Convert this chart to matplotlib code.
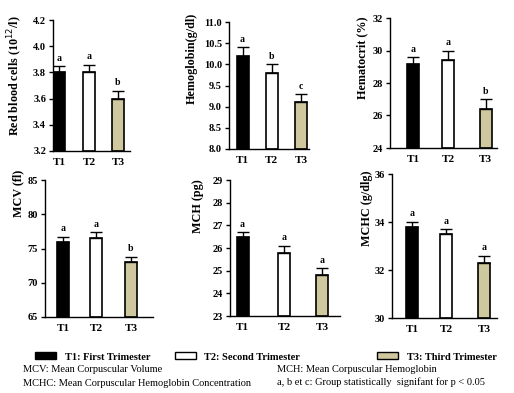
import numpy as np
import matplotlib.pyplot as plt
from matplotlib.patches import Rectangle

groups = ['T1', 'T2', 'T3']
colors = ['black', 'white', '#cfc79e']

# mean values and upper error (SEM) for each parameter
rbc = [3.8, 3.8, 3.6]
rbc_err = [0.05, 0.06, 0.06]
hb = [10.2, 9.8, 9.1]
hb_err = [0.2, 0.2, 0.2]
hct = [29.2, 29.4, 26.4]
hct_err = [0.4, 0.6, 0.6]
mcv = [76.0, 76.6, 73.0]
mcv_err = [0.7, 0.8, 0.8]
mch = [26.5, 25.8, 24.8]
mch_err = [0.2, 0.3, 0.3]
mchc = [33.8, 33.5, 32.3]
mchc_err = [0.2, 0.2, 0.3]

rbc_letters = ['a', 'a', 'b']
hb_letters = ['a', 'b', 'c']
hct_letters = ['a', 'a', 'b']
mcv_letters = ['a', 'a', 'b']
mch_letters = ['a', 'a', 'a']
mchc_letters = ['a', 'a', 'a']

W, H = 514, 393
plt.rcParams['font.family'] = ['Liberation Serif', 'DejaVu Serif']
fig = plt.figure(figsize=(W / 100, H / 100), dpi=100)

# each panel: pixel box (left, right, top, bottom), bar centres px, ylim, yticks, label, label pos
panels = [
    (rbc, rbc_err, rbc_letters, (53, 130, 20, 151), [59, 89, 118], (3.2, 4.2),
     np.arange(3.2, 4.21, 0.2), '%.1f', 'Red blood cells (10$^{12}$/l)', (15, 76)),
    (hb, hb_err, hb_letters, (229, 309, 22, 149), [242.5, 271.5, 301], (8.0, 11.0),
     np.arange(8.0, 11.01, 0.5), '%.1f', 'Hemoglobin(g/dl)', (192, 58)),
    (hct, hct_err, hct_letters, (390, 497, 18, 148), [413, 448, 485.5], (24, 32),
     np.arange(24, 33, 2), '%d', 'Hematocrit (%)', (362, 58)),
    (mcv, mcv_err, mcv_letters, (45, 153, 180, 317), [63, 96, 131], (65, 85),
     np.arange(65, 86, 5), '%d', 'MCV (fl)', (18, 193)),
    (mch, mch_err, mch_letters, (230, 340, 180, 316), [242.5, 284, 322], (23, 29),
     np.arange(23, 30, 1), '%d', 'MCH (pg)', (198, 206)),
    (mchc, mchc_err, mchc_letters, (392, 497, 174, 318), [412, 446, 484], (30, 36),
     np.arange(30, 37, 2), '%d', 'MCHC (g/dlg)', (367, 208)),
]

bar_px = 12
for vals, errs, letters, box, centres, ylim, yticks, fmt, label, lpos in panels:
    l, r, t, b = box
    ax = fig.add_axes([l / W, 1 - b / H, (r - l) / W, (b - t) / H])
    # x data axis measured in pixels from the spine
    x = np.array(centres) - l
    ax.bar(x, np.array(vals) - ylim[0], bottom=ylim[0], width=bar_px,
           color=colors, edgecolor='black', linewidth=1.2, zorder=2)
    ax.errorbar(x, vals, yerr=[[0, 0, 0], errs], fmt='none', ecolor='black',
                elinewidth=1, capsize=4.3, capthick=1, zorder=3)
    span = ylim[1] - ylim[0]
    for xi, v, e, let in zip(x, vals, errs, letters):
        ax.text(xi, v + e + span * 0.025, let, ha='center', va='bottom',
                fontsize=7, fontweight='bold')
    ax.set_xlim(0, r - l)
    ax.set_ylim(*ylim)
    ax.set_yticks(yticks)
    ax.set_yticklabels([fmt % v for v in yticks], fontsize=7.5, fontweight='bold')
    ax.set_xticks(x)
    ax.set_xticklabels(groups, fontsize=8, fontweight='bold')
    ax.tick_params(axis='x', length=0, pad=5)
    ax.tick_params(axis='y', length=3, width=1, direction='out', pad=2)
    for s in ['top', 'right']:
        ax.spines[s].set_visible(False)
    ax.spines['left'].set_linewidth(1)
    ax.spines['bottom'].set_linewidth(1)
    fig.text(lpos[0] / W, 1 - lpos[1] / H, label, rotation=90, ha='center',
             va='center', fontsize=8.7, fontweight='bold')

# legend boxes
legend_items = [('T1: First Trimester', 35, 65), ('T2: Second Trimester', 175, 204),
                ('T3: Third Trimester', 377, 407)]
for (txt, bx, tx), c in zip(legend_items, colors):
    fig.patches.append(Rectangle((bx / W, 1 - 359 / H), 21 / W, 7 / H,
                                 transform=fig.transFigure, facecolor=c,
                                 edgecolor='black', linewidth=1))
    fig.text(tx / W, 1 - 357 / H, txt, ha='left', va='center',
             fontsize=7.5, fontweight='bold')

notes = [('MCV: Mean Corpuscular Volume', 23, 370),
         ('MCHC: Mean Corpuscular Hemoglobin Concentration', 23, 383),
         ('MCH: Mean Corpuscular Hemoglobin', 277, 369),
         ('a, b et c: Group statistically  signifant for p < 0.05', 277, 382)]
for txt, tx, ty in notes:
    fig.text(tx / W, 1 - ty / H, txt, ha='left', va='center', fontsize=7.5)

fig.savefig('out.png', dpi=100)
